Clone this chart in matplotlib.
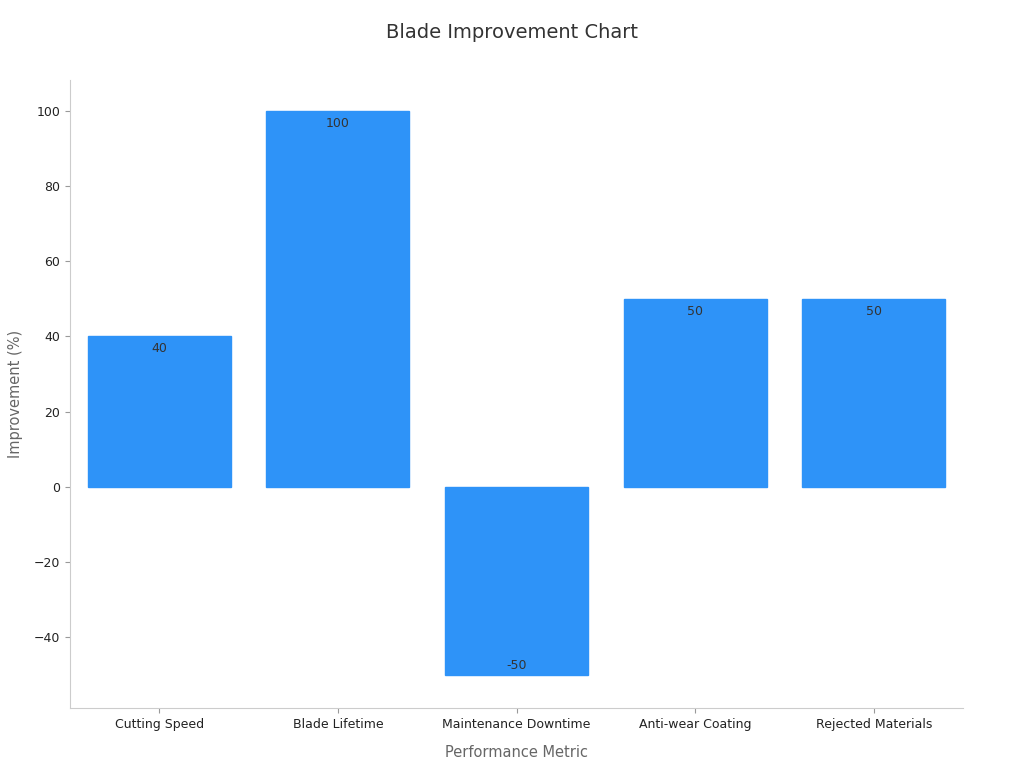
import matplotlib
import matplotlib.pyplot as plt

matplotlib.use('agg')

metrics = ['Cutting Speed', 'Blade Lifetime', 'Maintenance Downtime',
           'Anti-wear Coating', 'Rejected Materials']
improvement = [40, 100, -50, 50, 50]

fig = plt.figure(figsize=(10.24, 7.68), dpi=100)
ax = fig.add_axes([70/1024, 60/768, 893/1024, 628/768])

x = range(len(metrics))
bars = ax.bar(x, improvement, width=0.8, color='#2E93F8', edgecolor='#2E93F8')

for b, v in zip(bars, improvement):
    cx = b.get_x() + b.get_width() / 2
    if v >= 0:
        ax.annotate(str(v), (cx, v), xytext=(0, -9), textcoords='offset points',
                    ha='center', va='center', fontsize=9, color='#333333')
    else:
        ax.annotate(str(v), (cx, v), xytext=(0, 7), textcoords='offset points',
                    ha='center', va='center', fontsize=9, color='#333333')

ax.set_xlim(-0.5, 4.5)
ax.set_ylim(-58.8, 108.2)
ax.set_yticks([-40, -20, 0, 20, 40, 60, 80, 100])
ax.set_xticks(list(x))
ax.set_xticklabels(metrics)
ax.tick_params(labelsize=9, colors='#222222')
ax.tick_params(color='#999999')

for s in ['top', 'right']:
    ax.spines[s].set_visible(False)
for s in ['left', 'bottom']:
    ax.spines[s].set_color('#cccccc')

ax.set_xlabel('Performance Metric', fontsize=10.5, color='#666666', labelpad=10)
ax.set_ylabel('Improvement (%)', fontsize=10.5, color='#666666', labelpad=8)
fig.text(0.5, 1 - 33/768, 'Blade Improvement Chart', ha='center', va='center',
         fontsize=14, color='#333333')

plt.savefig('out.png')
plt.close()
